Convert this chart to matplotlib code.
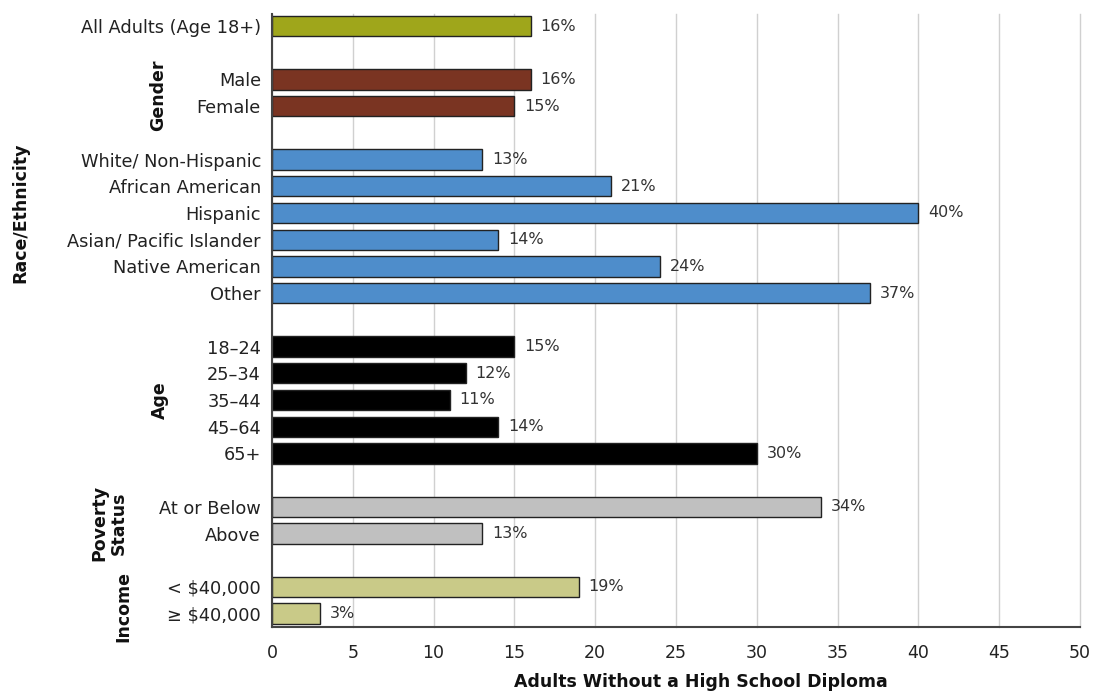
import numpy as np
import matplotlib
matplotlib.use('Agg')
import matplotlib.pyplot as plt

# categories top to bottom, None marks a gap slot between groups
categories = ['All Adults (Age 18+)', None,
              'Male', 'Female', None,
              'White/ Non-Hispanic', 'African American', 'Hispanic',
              'Asian/ Pacific Islander', 'Native American', 'Other', None,
              '18\u201324', '25\u201334', '35\u201344', '45\u201364', '65+', None,
              'At or Below', 'Above', None,
              '< $40,000', '\u2265 $40,000']
values = [16, None,
          16, 15, None,
          13, 21, 40, 14, 24, 37, None,
          15, 12, 11, 14, 30, None,
          34, 13, None,
          19, 3]
groups = ['all', None,
          'gender', 'gender', None,
          'race', 'race', 'race', 'race', 'race', 'race', None,
          'age', 'age', 'age', 'age', 'age', None,
          'poverty', 'poverty', None,
          'income', 'income']

group_colors = {'all': '#9fa61b', 'gender': '#7a3422', 'race': '#4e8dcb',
                'age': '#000000', 'poverty': '#c0c0c0', 'income': '#c9ca88'}

# group title, slot center, x position in figure pixels
group_titles = [('Gender', 2.6, 158), ('Race/Ethnicity', 7.0, 20),
                ('Age', 14, 160), ('Poverty\nStatus', 18.6, 109),
                ('Income', 21.75, 123)]

W, H = 1096, 691
fig = plt.figure(figsize=(W / 100, H / 100), dpi=100)
ax = fig.add_axes([272 / W, 1 - 627 / H, (1080 - 272) / W, (627 - 14) / H])

ypos = np.arange(len(categories))
for y, cat, v, g in zip(ypos, categories, values, groups):
    if cat is None:
        continue
    ax.barh(y, v, height=0.76, color=group_colors[g], edgecolor='#222222',
            linewidth=1.0, zorder=3)
    ax.text(v + 0.6, y, f'{v}%', va='center', ha='left', fontsize=11.5,
            color='#333333')

ax.set_ylim(len(categories) - 0.5, -0.45)
ax.set_xlim(0, 50)
ax.set_xticks(np.arange(0, 51, 5))
ax.set_yticks([y for y, c in zip(ypos, categories) if c is not None])
ax.set_yticklabels([c for c in categories if c is not None], fontsize=12.8,
                   color='#222222')
ax.tick_params(axis='both', length=0, pad=8)
ax.tick_params(axis='x', labelsize=12.5, colors='#222222', pad=12)
ax.grid(axis='x', color='#d0d0d0', linewidth=1.0, zorder=0)
for line in ax.get_xgridlines():
    line.set_clip_on(False)
for s in ['top', 'right']:
    ax.spines[s].set_visible(False)
for s in ['left', 'bottom']:
    ax.spines[s].set_color('#444444')
    ax.spines[s].set_linewidth(1.5)
    ax.spines[s].set_zorder(4)

title_font = dict(fontweight='bold', fontsize=12.5, color='#111111')
for label, slot, xpix in group_titles:
    yfig = ax.transData.transform((0, slot))[1] / H
    fig.text(xpix / W, yfig, label, rotation=90, ha='center', va='center',
             multialignment='center', linespacing=1.05, **title_font)

fig.text(701 / W, 1 - 682 / H, 'Adults Without a High School Diploma',
         ha='center', va='center', **title_font)

fig.savefig('out.png', dpi=100)
